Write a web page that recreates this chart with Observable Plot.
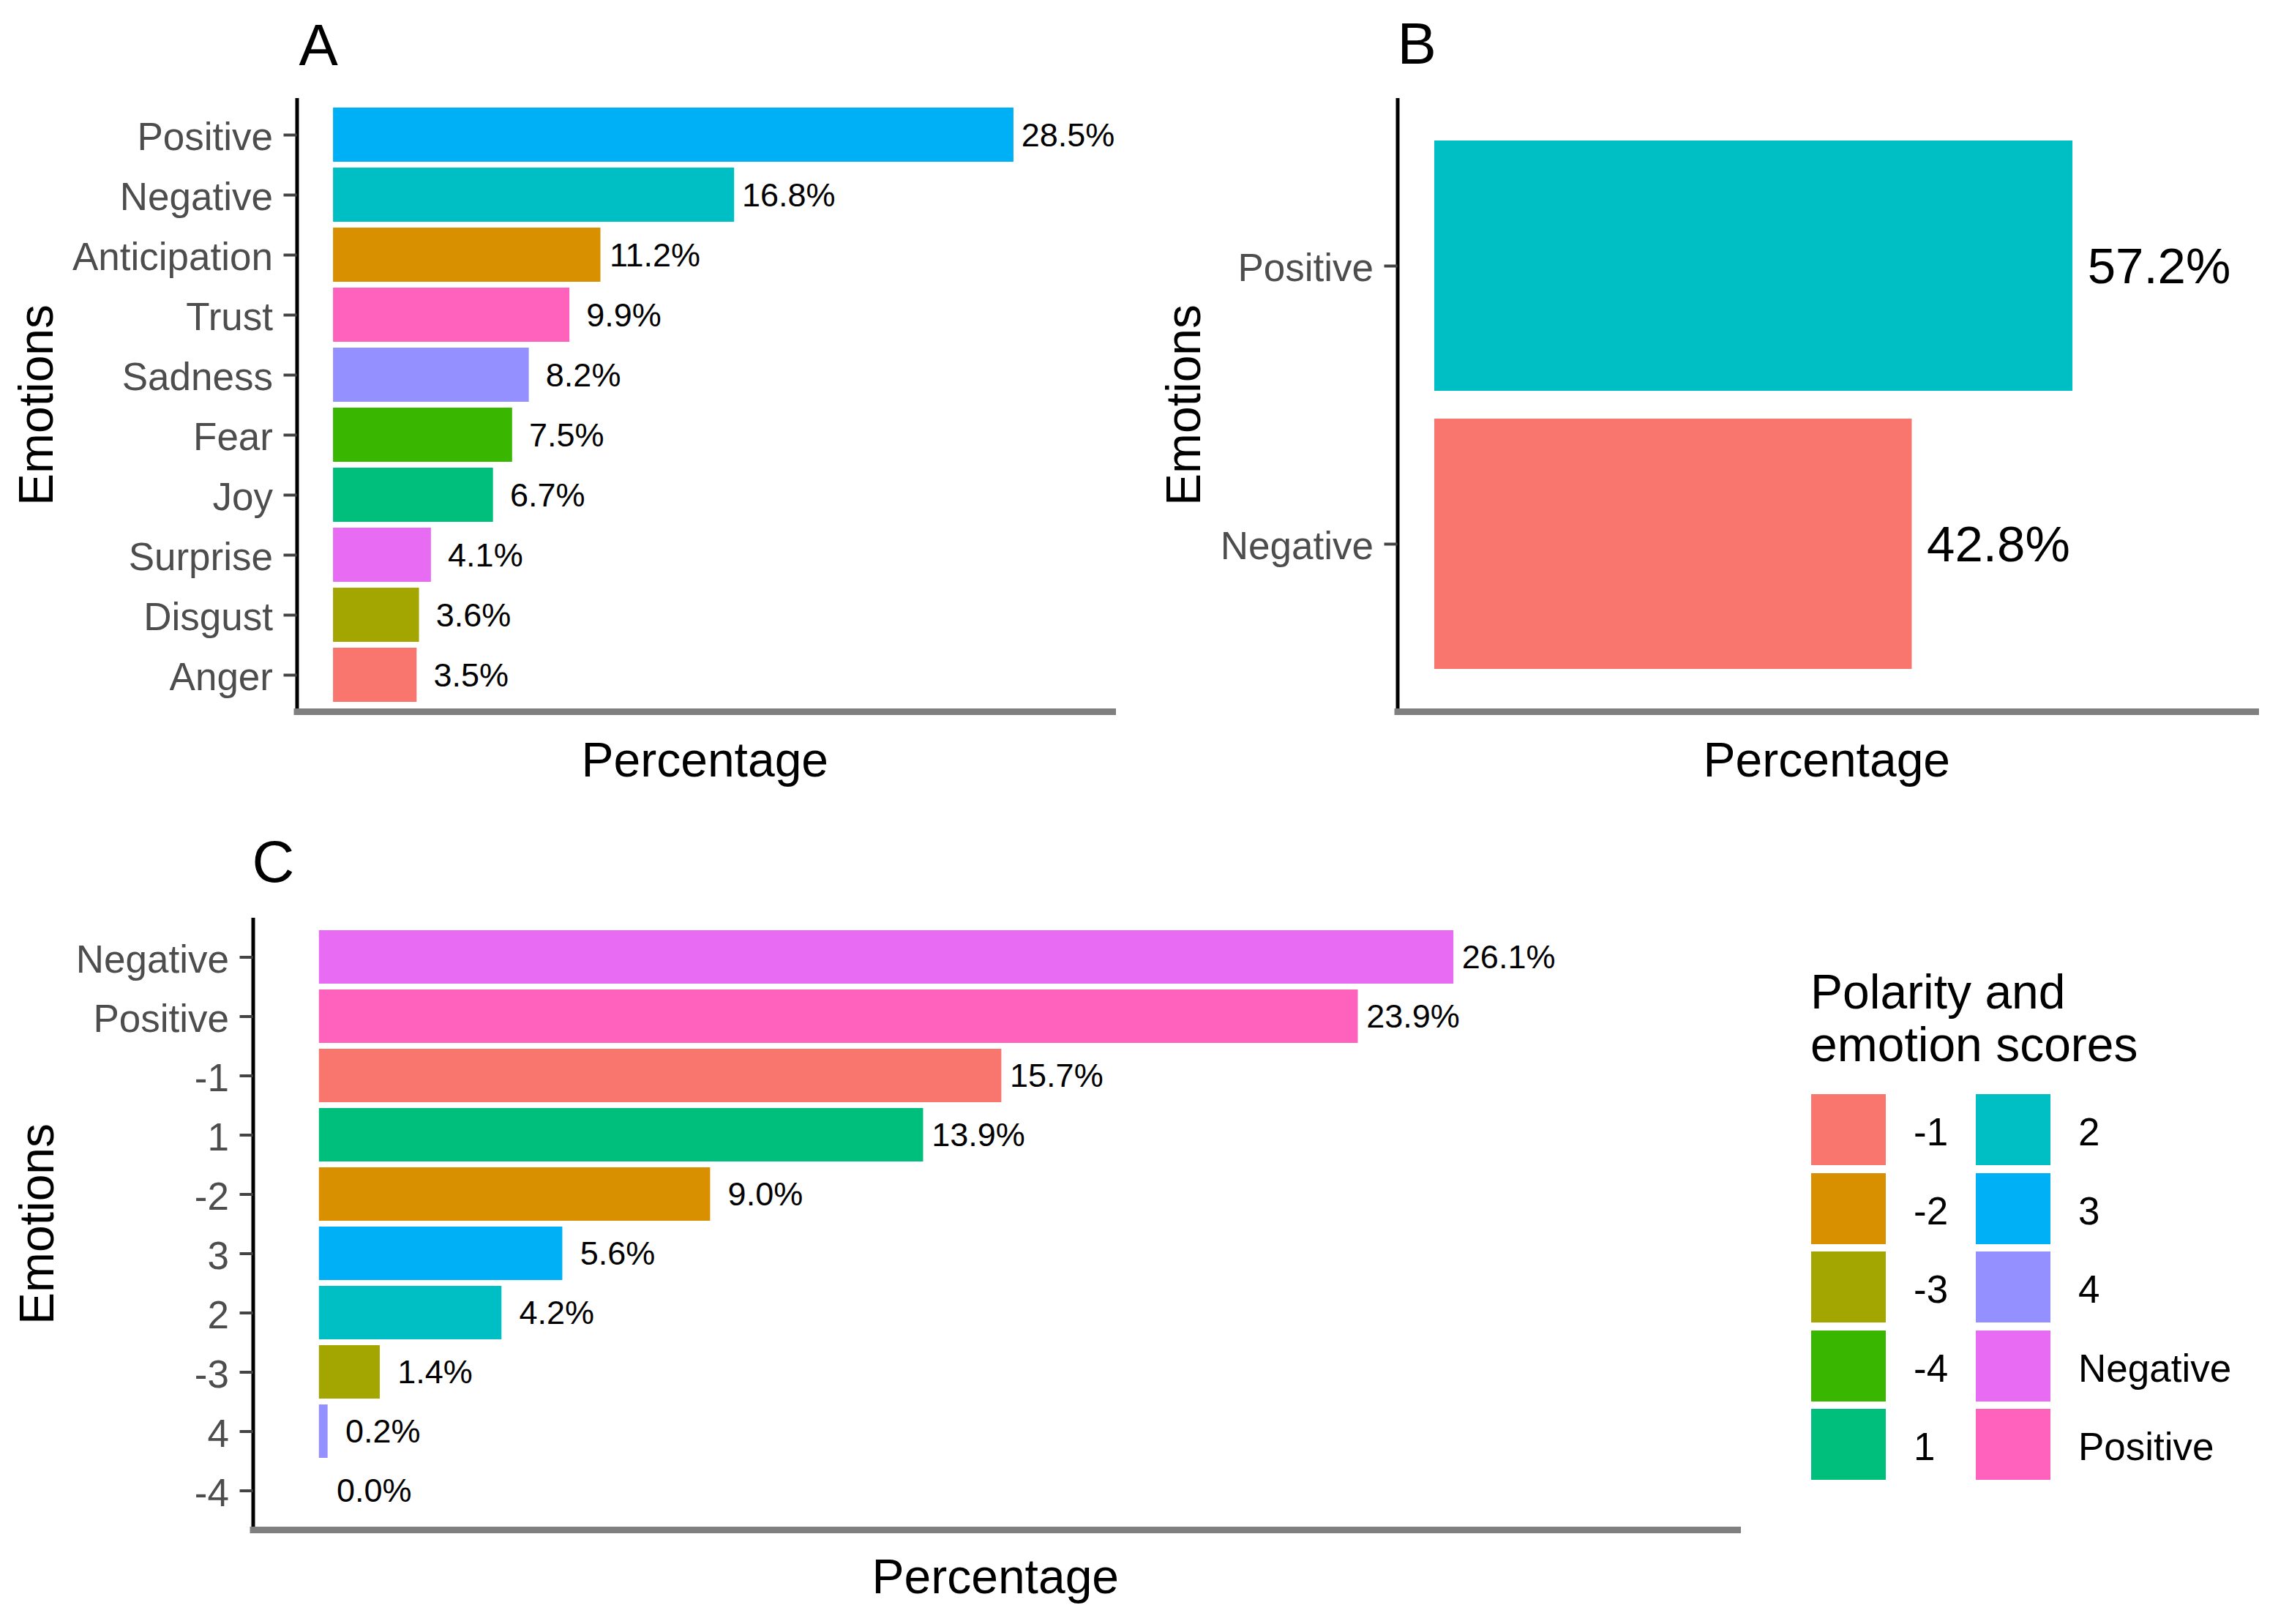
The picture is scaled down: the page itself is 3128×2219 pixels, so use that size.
<!DOCTYPE html>
<html>
<head>
<meta charset="utf-8">
<script src="https://cdn.jsdelivr.net/npm/d3@7"></script>
<script src="https://cdn.jsdelivr.net/npm/@observablehq/plot@0.6"></script>
<style>
  html, body { margin: 0; padding: 0; background: #fff; }
  #wrap { position: relative; width: 3128px; height: 2219px; background: #fff; overflow: hidden;
          font-family: "Liberation Sans", Arial, sans-serif; }
  .panel { position: absolute; }
  .legend-title { position: absolute; left: 2474px; top: 1319px; font-size: 66px; line-height: 72px; color: #000; white-space: nowrap; }
  .sw { position: absolute; width: 102px; height: 97px; }
  .swl { position: absolute; font-size: 53px; line-height: 97px; height: 97px; color: #000; white-space: nowrap; }
</style>
</head>
<body>
<div id="wrap"></div>
<script>
// ---------- data ----------
const emotionsA = ["Positive", "Negative", "Anticipation", "Trust", "Sadness", "Fear", "Joy", "Surprise", "Disgust", "Anger"];
const valuesA   = [28.5, 16.8, 11.2, 9.9, 8.2, 7.5, 6.7, 4.1, 3.6, 3.5];

const emotionsB = ["Positive", "Negative"];
const valuesB   = [57.2, 42.8];

const scoresC = ["Negative", "Positive", "-1", "1", "-2", "3", "2", "-3", "4", "-4"];
const valuesC = [26.1, 23.9, 15.7, 13.9, 9.0, 5.6, 4.2, 1.4, 0.2, 0.0];

const hue10 = ["#F8766D", "#D89000", "#A3A500", "#39B600", "#00BF7D", "#00BFC4", "#00B0F6", "#9590FF", "#E76BF3", "#FF62BC"];
const hue2  = ["#F8766D", "#00BFC4"];

const legendTitle = ["Polarity and", "emotion scores"];
const legendKeys  = ["-1", "-2", "-3", "-4", "1", "2", "3", "4", "Negative", "Positive"];

const axisTitleX = "Percentage";
const axisTitleY = "Emotions";

// ---------- helpers ----------
const SANS = "Liberation Sans, Arial, sans-serif";
const NARROW = "Liberation Sans Narrow, Arial Narrow, Liberation Sans, Arial, sans-serif";
const wrap = document.getElementById("wrap");

function panel(cfg) {
  const data = cfg.cats.map((c, i) => ({c, v: cfg.vals[i]}));
  const chart = Plot.plot({
    width: cfg.width, height: cfg.height,
    marginLeft: cfg.ml, marginRight: cfg.mr, marginTop: cfg.mt, marginBottom: cfg.mb,
    style: {background: "transparent", fontFamily: SANS, overflow: "visible"},
    x: {domain: cfg.xDomain, axis: null},
    y: {domain: cfg.cats, paddingInner: 0.1, paddingOuter: 0.15},
    color: {domain: cfg.colorDomain, range: cfg.colors},
    marks: [
      Plot.barX(data, {x: "v", y: "c", fill: "c"}),
      Plot.text(data, {x: "v", y: "c", text: d => d.v.toFixed(1) + "%", dx: cfg.labelDx, dy: 1,
                       textAnchor: "middle", lineAnchor: "middle", fontSize: cfg.labelSize,
                       fontFamily: NARROW, fill: "#000"}),
      Plot.ruleX([cfg.xDomain[0]], {stroke: "#000", strokeWidth: 5}),
      Plot.frame({anchor: "bottom", stroke: "#7F7F7F", strokeWidth: 9}),
      // tick marks
      Plot.axisY({label: null, tickSize: 18, tickFormat: () => "", stroke: "#444", strokeWidth: 4}),
      // tick labels
      Plot.axisY({label: null, tickSize: 0, tickPadding: 33, dy: 4, fontSize: 53, fontFamily: SANS,
                  color: "#4D4D4D"}),
      Plot.text([axisTitleY], {text: d => d, frameAnchor: "left", dx: cfg.yTitleX - cfg.ml, rotate: -90,
                               textAnchor: "middle", lineAnchor: "middle", fontSize: 66, fill: "#000"}),
      Plot.text([axisTitleX], {text: d => d, frameAnchor: "bottom", dy: cfg.xTitleDy,
                               textAnchor: "middle", lineAnchor: "bottom", fontSize: 66, fill: "#000"}),
      Plot.text([cfg.letter], {text: d => d, frameAnchor: "top-left", dx: cfg.letterDx, dy: cfg.letterDy,
                               textAnchor: "start", lineAnchor: "bottom", fontSize: 80, fill: "#000"})
    ]
  });
  chart.classList.add("panel");
  chart.style.left = cfg.left + "px";
  chart.style.top = cfg.top + "px";
  wrap.appendChild(chart);
}

// Panel A
panel({
  cats: emotionsA, vals: valuesA,
  colorDomain: [...emotionsA].sort(), colors: hue10,
  xDomain: [-1.52, 32.64],
  left: 0, top: 0, width: 1560, height: 1100,
  ml: 405.5, mr: 40, mt: 134, mb: 128,
  labelDx: 74, labelSize: 45,
  yTitleX: 50, xTitleDy: 88,
  letter: "A", letterDx: 2.5, letterDy: -46
});

// Panel B
panel({
  cats: emotionsB, vals: valuesB,
  colorDomain: [...emotionsB].sort(), colors: hue2,
  xDomain: [-3.31, 73.6],
  left: 1560, top: 0, width: 1568, height: 1100,
  ml: 349.5, mr: 46, mt: 134, mb: 128,
  labelDx: 118, labelSize: 69,
  yTitleX: 58, xTitleDy: 88,
  letter: "B", letterDx: -0.5, letterDy: -48
});

// Panel C
panel({
  cats: scoresC, vals: valuesC,
  colorDomain: legendKeys, colors: hue10,
  xDomain: [-1.52, 32.63],
  left: 0, top: 1100, width: 2400, height: 1119,
  ml: 345.5, mr: 26, mt: 154, mb: 129,
  labelDx: 75, labelSize: 45,
  yTitleX: 51, xTitleDy: 86,
  letter: "C", letterDx: -1.5, letterDy: -50
});

// Legend for panel C (colours from a Plot scale)
const legendScale = Plot.scale({color: {domain: legendKeys, range: hue10}});
const title = document.createElement("div");
title.className = "legend-title";
title.innerHTML = legendTitle.join("<br>");
wrap.appendChild(title);
legendKeys.forEach((k, i) => {
  const col = Math.floor(i / 5), row = i % 5;
  const top = 1495 + row * 107.5;
  const sw = document.createElement("div");
  sw.className = "sw";
  sw.style.left = (2475 + col * 225) + "px";
  sw.style.top = top + "px";
  sw.style.background = legendScale.apply(k);
  wrap.appendChild(sw);
  const lb = document.createElement("div");
  lb.className = "swl";
  lb.style.left = (2615 + col * 225) + "px";
  lb.style.top = (top + 3) + "px";
  lb.textContent = k;
  wrap.appendChild(lb);
});
</script>
</body>
</html>
